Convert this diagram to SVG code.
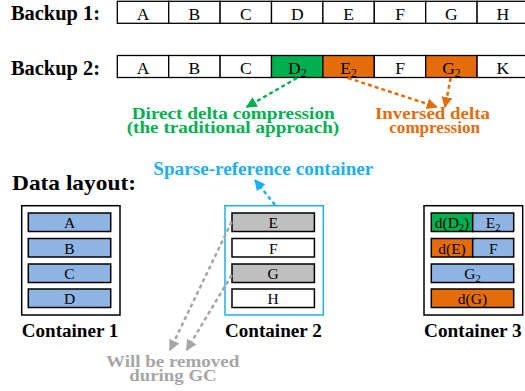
<svg xmlns="http://www.w3.org/2000/svg" width="525" height="391" viewBox="0 0 525 391">
<defs>
<style>
.lbl{font-family:"Liberation Serif",serif;font-weight:bold;fill:#000}
.cell{fill:#fff;stroke:#000;stroke-width:1.3}
.ct{font-family:"Liberation Serif",serif;font-size:17.5px;fill:#000;text-anchor:middle}
.bar{stroke:#000;stroke-width:1.5}
.bt{font-family:"Liberation Serif",serif;font-size:15.5px;fill:#000;text-anchor:middle}
.blue{fill:#8EB4E3}
.green{fill:#00B050}
.orange{fill:#E46C0A}
.gray{fill:#BFBFBF}
.white{fill:#fff}
.dash{fill:none;stroke-width:2.5;stroke-dasharray:4 3}
</style>
<marker id="ag" viewBox="0 0 10 10" refX="9" refY="5" markerWidth="4.4" markerHeight="4.4" orient="auto" markerUnits="strokeWidth"><path d="M0,0L10,5L0,10z" fill="#00B050"/></marker>
<marker id="ao" viewBox="0 0 10 10" refX="9" refY="5" markerWidth="4.4" markerHeight="4.4" orient="auto" markerUnits="strokeWidth"><path d="M0,0L10,5L0,10z" fill="#E46C0A"/></marker>
<marker id="ab" viewBox="0 0 10 10" refX="9" refY="5" markerWidth="4.4" markerHeight="4.4" orient="auto" markerUnits="strokeWidth"><path d="M0,0L10,5L0,10z" fill="#1CB0F0"/></marker>
<marker id="ay" viewBox="0 0 10 10" refX="9" refY="5" markerWidth="4.4" markerHeight="4.4" orient="auto" markerUnits="strokeWidth"><path d="M0,0L10,5L0,10z" fill="#A6A6A6"/></marker>
</defs>
<rect width="525" height="391" fill="#fff"/>

<g id="backup1">
<text class="lbl" x="11" y="20" font-size="20.5" textLength="89" lengthAdjust="spacingAndGlyphs">Backup 1:</text>
<rect class="cell" x="117.3" y="1.3" width="51.4" height="22"/><text class="ct" x="143" y="19.5">A</text>
<rect class="cell" x="168.7" y="1.3" width="51.4" height="22"/><text class="ct" x="194.4" y="19.5">B</text>
<rect class="cell" x="220.1" y="1.3" width="51.4" height="22"/><text class="ct" x="245.8" y="19.5">C</text>
<rect class="cell" x="271.5" y="1.3" width="51.4" height="22"/><text class="ct" x="297.2" y="19.5">D</text>
<rect class="cell" x="322.9" y="1.3" width="51.4" height="22"/><text class="ct" x="348.6" y="19.5">E</text>
<rect class="cell" x="374.3" y="1.3" width="51.4" height="22"/><text class="ct" x="400" y="19.5">F</text>
<rect class="cell" x="425.7" y="1.3" width="51.4" height="22"/><text class="ct" x="451.4" y="19.5">G</text>
<rect class="cell" x="477.1" y="1.3" width="51.4" height="22"/><text class="ct" x="502.8" y="19.5">H</text>
</g>

<g id="backup2">
<text class="lbl" x="11" y="75" font-size="20.5" textLength="89" lengthAdjust="spacingAndGlyphs">Backup 2:</text>
<rect class="cell" x="117.3" y="55.5" width="51.4" height="22"/><text class="ct" x="143" y="73.5">A</text>
<rect class="cell" x="168.7" y="55.5" width="51.4" height="22"/><text class="ct" x="194.4" y="73.5">B</text>
<rect class="cell" x="220.1" y="55.5" width="51.4" height="22"/><text class="ct" x="245.8" y="73.5">C</text>
<rect class="cell" x="271.5" y="55.5" width="51.4" height="22" style="fill:#00B050"/><text class="ct" x="297.2" y="73.5">D<tspan font-size="11.5" dy="3">2</tspan></text>
<rect class="cell" x="322.9" y="55.5" width="51.4" height="22" style="fill:#E46C0A"/><text class="ct" x="348.6" y="73.5">E<tspan font-size="11.5" dy="3">2</tspan></text>
<rect class="cell" x="374.3" y="55.5" width="51.4" height="22"/><text class="ct" x="400" y="73.5">F</text>
<rect class="cell" x="425.7" y="55.5" width="51.4" height="22" style="fill:#E46C0A"/><text class="ct" x="451.4" y="73.5">G<tspan font-size="11.5" dy="3">2</tspan></text>
<rect class="cell" x="477.1" y="55.5" width="51.4" height="22"/><text class="ct" x="502.8" y="73.5">K</text>
</g>

<g id="direct-label">
<text class="lbl" x="131.7" y="119.3" font-size="17.5" textLength="203" lengthAdjust="spacingAndGlyphs" style="fill:#00B050">Direct delta compression</text>
<text class="lbl" x="126.7" y="133.3" font-size="17.5" textLength="212.5" lengthAdjust="spacingAndGlyphs" style="fill:#00B050">(the traditional approach)</text>
</g>
<g id="inversed-label">
<text class="lbl" x="375" y="119.3" font-size="17.5" textLength="115" lengthAdjust="spacingAndGlyphs" style="fill:#E46C0A">Inversed delta</text>
<text class="lbl" x="389.3" y="133.3" font-size="17.5" textLength="90.7" lengthAdjust="spacingAndGlyphs" style="fill:#E46C0A">compression</text>
</g>
<g id="sparse-label">
<text class="lbl" x="153.3" y="175" font-size="18" textLength="220" lengthAdjust="spacingAndGlyphs" style="fill:#1CB0F0">Sparse-reference container</text>
</g>

<g id="data-layout">
<text class="lbl" x="12" y="190" font-size="22" textLength="124" lengthAdjust="spacingAndGlyphs">Data layout:</text>
</g>

<g id="container1">
<rect x="21.7" y="205.7" width="98.3" height="109.3" fill="#fff" stroke="#000" stroke-width="1.5"/>
<rect class="bar blue" x="28.3" y="213" width="82.4" height="18.5"/><text class="bt" x="69.5" y="228">A</text>
<rect class="bar blue" x="28.3" y="238.5" width="82.4" height="18.5"/><text class="bt" x="69.5" y="253.5">B</text>
<rect class="bar blue" x="28.3" y="264" width="82.4" height="18.5"/><text class="bt" x="69.5" y="279">C</text>
<rect class="bar blue" x="28.3" y="289" width="82.4" height="18.5"/><text class="bt" x="69.5" y="304">D</text>
<text class="lbl" x="21.7" y="336.5" font-size="18" textLength="96.7" lengthAdjust="spacingAndGlyphs">Container 1</text>
</g>

<g id="container2">
<rect x="225" y="205.7" width="98.3" height="109.3" fill="#fff" stroke="#1CB0F0" stroke-width="1.5"/>
<rect class="bar gray" x="232" y="213" width="82.4" height="18.5"/><text class="bt" x="273.2" y="228">E</text>
<rect class="bar white" x="232" y="238.5" width="82.4" height="18.5"/><text class="bt" x="273.2" y="253.5">F</text>
<rect class="bar gray" x="232" y="264" width="82.4" height="18.5"/><text class="bt" x="273.2" y="279">G</text>
<rect class="bar white" x="232" y="289" width="82.4" height="18.5"/><text class="bt" x="273.2" y="304">H</text>
<text class="lbl" x="225" y="336.5" font-size="18" textLength="96.7" lengthAdjust="spacingAndGlyphs">Container 2</text>
</g>

<g id="container3">
<rect x="424" y="205.7" width="98.7" height="109.3" fill="#fff" stroke="#000" stroke-width="1.5"/>
<rect class="bar green" x="431.3" y="213" width="41.4" height="18.5"/><text class="bt" x="452" y="228">d(D<tspan font-size="10.5" dy="3">2</tspan><tspan dy="-3">)</tspan></text>
<rect class="bar blue" x="472.7" y="213" width="41" height="18.5"/><text class="bt" x="493.2" y="228">E<tspan font-size="10.5" dy="3">2</tspan></text>
<rect class="bar orange" x="431.3" y="238.5" width="41.4" height="18.5"/><text class="bt" x="452" y="253.5">d(E)</text>
<rect class="bar blue" x="472.7" y="238.5" width="41" height="18.5"/><text class="bt" x="493.2" y="253.5">F</text>
<rect class="bar blue" x="431.3" y="264" width="82.4" height="18.5"/><text class="bt" x="472.5" y="279">G<tspan font-size="10.5" dy="3">2</tspan></text>
<rect class="bar orange" x="431.3" y="289" width="82.4" height="18.5"/><text class="bt" x="472.5" y="304">d(G)</text>
<text class="lbl" x="424" y="336.5" font-size="18" textLength="97.7" lengthAdjust="spacingAndGlyphs">Container 3</text>
</g>

<g id="gc-label">
<text class="lbl" x="106" y="367" font-size="17" textLength="133.3" lengthAdjust="spacingAndGlyphs" style="fill:#A6A6A6">Will be removed</text>
<text class="lbl" x="129.3" y="381" font-size="17" textLength="87.4" lengthAdjust="spacingAndGlyphs" style="fill:#A6A6A6">during GC</text>
</g>

<g id="connectors">
<line class="dash" x1="297" y1="78" x2="246.7" y2="107" stroke="#00B050" marker-end="url(#ag)"/>
<line class="dash" x1="348" y1="78" x2="436.7" y2="107" stroke="#E46C0A" marker-end="url(#ao)"/>
<line class="dash" x1="450.7" y1="78" x2="445" y2="107" stroke="#E46C0A" marker-end="url(#ao)"/>
<line class="dash" x1="275" y1="205" x2="255" y2="180" stroke="#1CB0F0" marker-end="url(#ab)"/>
<line class="dash" x1="231.7" y1="221.7" x2="170" y2="350" stroke="#A6A6A6" marker-end="url(#ay)"/>
<line class="dash" x1="231.7" y1="275" x2="186.7" y2="350" stroke="#A6A6A6" marker-end="url(#ay)"/>
</g>
</svg>
